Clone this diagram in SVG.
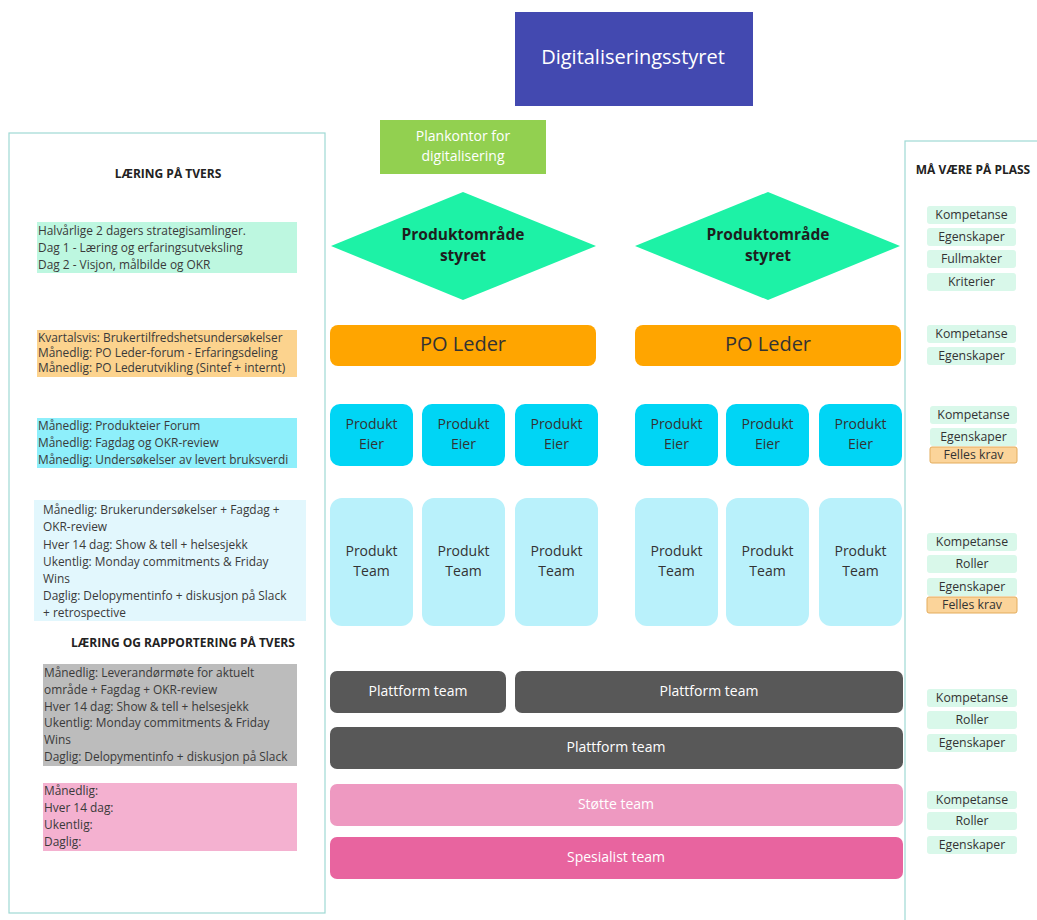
<svg xmlns="http://www.w3.org/2000/svg" width="1037" height="920" viewBox="0 0 1037 920">
  <style>
    text { font-family: "Open Sans", "Noto Sans", "Liberation Sans", sans-serif; fill: #333; }
    .panel { fill: #fff; stroke: #9fd9d4; stroke-width: 1.2; }
    .head { font-size: 12px; font-weight: bold; fill: #222; text-anchor: middle; }
    .note { font-size: 11.9px; fill: #3a3a3a; }
    .tag { fill: #d9f8ea; }
    .tagkrav { fill: #fbd49a; stroke: #e3ac5c; stroke-width: 1; }
    .tagtxt { font-size: 12.3px; fill: #333; text-anchor: middle; }
    .c { text-anchor: middle; }
    .diamond { fill: #1df2a6; }
    .dtxt { font-size: 15.5px; font-weight: bold; fill: #1e1e1e; text-anchor: middle; }
    .po { fill: #ffa500; }
    .eier { fill: #00d5f5; }
    .team { fill: #b9f1fb; }
    .box14 { font-size: 14px; fill: #333; text-anchor: middle; }
    .plat { fill: #585858; }
    .wtxt { font-size: 14px; fill: #fff; text-anchor: middle; }
  </style>

  <!-- side panels -->
  <g id="panel-left">
    <rect class="panel" x="9" y="133" width="316" height="780"/>
    <text class="head" x="168" y="178">LÆRING PÅ TVERS</text>
    <rect x="37" y="222" width="260" height="51" fill="#bdf7e0"/>
    <text class="note" x="38" y="235" font-size="10.6">Halvårlige 2 dagers strategisamlinger.</text>
    <text class="note" x="38" y="252" font-size="10.6">Dag 1 - Læring og erfaringsutveksling</text>
    <text class="note" x="38" y="269" font-size="10.6">Dag 2 - Visjon, målbilde og OKR</text>

    <rect x="37" y="330" width="260" height="47" fill="#fcd38e"/>
    <text class="note" x="38" y="342" font-size="10.2">Kvartalsvis: Brukertilfredshetsundersøkelser</text>
    <text class="note" x="38" y="357" font-size="10.2">Månedlig: PO Leder-forum - Erfaringsdeling</text>
    <text class="note" x="38" y="372" font-size="10.2">Månedlig: PO Lederutvikling (Sintef + internt)</text>

    <rect x="37" y="418" width="260" height="50" fill="#8eeffb"/>
    <text class="note" x="38" y="430">Månedlig: Produkteier Forum</text>
    <text class="note" x="38" y="447">Månedlig: Fagdag og OKR-review</text>
    <text class="note" x="38" y="464">Månedlig: Undersøkelser av levert bruksverdi</text>

    <rect x="34" y="500" width="272" height="121" fill="#e2f7fd"/>
    <text class="note" x="43" y="514">Månedlig: Brukerundersøkelser + Fagdag +</text>
    <text class="note" x="43" y="531">OKR-review</text>
    <text class="note" x="43" y="549">Hver 14 dag: Show &amp; tell + helsesjekk</text>
    <text class="note" x="43" y="566">Ukentlig: Monday commitments &amp; Friday</text>
    <text class="note" x="43" y="583">Wins</text>
    <text class="note" x="43" y="600">Daglig: Delopymentinfo + diskusjon på Slack</text>
    <text class="note" x="43" y="617">+ retrospective</text>

    <text class="head" x="183" y="647">LÆRING OG RAPPORTERING PÅ TVERS</text>

    <rect x="43" y="664" width="254" height="102" fill="#bcbcbc"/>
    <text class="note" x="44" y="677">Månedlig: Leverandørmøte for aktuelt</text>
    <text class="note" x="44" y="694">område + Fagdag + OKR-review</text>
    <text class="note" x="44" y="711">Hver 14 dag: Show &amp; tell + helsesjekk</text>
    <text class="note" x="44" y="727">Ukentlig: Monday commitments &amp; Friday</text>
    <text class="note" x="44" y="744">Wins</text>
    <text class="note" x="44" y="761">Daglig: Delopymentinfo + diskusjon på Slack</text>

    <rect x="43" y="783" width="254" height="68" fill="#f4b1d0"/>
    <text class="note" x="44" y="795">Månedlig:</text>
    <text class="note" x="44" y="812">Hver 14 dag:</text>
    <text class="note" x="44" y="829">Ukentlig:</text>
    <text class="note" x="44" y="846">Daglig:</text>
  </g>

  <g id="panel-right">
    <rect class="panel" x="905" y="141" width="140" height="790"/>
    <text class="head" x="973" y="174">MÅ VÆRE PÅ PLASS</text>

    <rect class="tag" x="927" y="206" width="89" height="18" rx="3"/>
    <text class="tagtxt" x="971.5" y="219">Kompetanse</text>
    <rect class="tag" x="927" y="228" width="89" height="18" rx="3"/>
    <text class="tagtxt" x="971.5" y="241">Egenskaper</text>
    <rect class="tag" x="927" y="250" width="89" height="18" rx="3"/>
    <text class="tagtxt" x="971.5" y="263">Fullmakter</text>
    <rect class="tag" x="927" y="273" width="89" height="18" rx="3"/>
    <text class="tagtxt" x="971.5" y="286">Kriterier</text>

    <rect class="tag" x="927" y="325" width="89" height="18" rx="3"/>
    <text class="tagtxt" x="971.5" y="338">Kompetanse</text>
    <rect class="tag" x="927" y="347" width="89" height="18" rx="3"/>
    <text class="tagtxt" x="971.5" y="360">Egenskaper</text>

    <rect class="tag" x="930" y="406" width="87" height="18" rx="3"/>
    <text class="tagtxt" x="973.5" y="419">Kompetanse</text>
    <rect class="tag" x="930" y="428" width="87" height="18" rx="3"/>
    <text class="tagtxt" x="973.5" y="441">Egenskaper</text>
    <rect class="tagkrav" x="930" y="447" width="87" height="16" rx="2"/>
    <text class="tagtxt" x="973.5" y="459" font-size="11">Felles krav</text>

    <rect class="tag" x="927" y="533" width="90" height="18" rx="3"/>
    <text class="tagtxt" x="972" y="546">Kompetanse</text>
    <rect class="tag" x="927" y="555" width="90" height="18" rx="3"/>
    <text class="tagtxt" x="972" y="568">Roller</text>
    <rect class="tag" x="927" y="578" width="90" height="18" rx="3"/>
    <text class="tagtxt" x="972" y="591">Egenskaper</text>
    <rect class="tagkrav" x="927" y="597" width="90" height="16" rx="2"/>
    <text class="tagtxt" x="972" y="609" font-size="11">Felles krav</text>

    <rect class="tag" x="927" y="689" width="90" height="18" rx="3"/>
    <text class="tagtxt" x="972" y="702">Kompetanse</text>
    <rect class="tag" x="927" y="711" width="90" height="18" rx="3"/>
    <text class="tagtxt" x="972" y="724">Roller</text>
    <rect class="tag" x="927" y="734" width="90" height="18" rx="3"/>
    <text class="tagtxt" x="972" y="747">Egenskaper</text>

    <rect class="tag" x="927" y="791" width="90" height="18" rx="3"/>
    <text class="tagtxt" x="972" y="804">Kompetanse</text>
    <rect class="tag" x="927" y="812" width="90" height="18" rx="3"/>
    <text class="tagtxt" x="972" y="825">Roller</text>
    <rect class="tag" x="927" y="836" width="90" height="18" rx="3"/>
    <text class="tagtxt" x="972" y="849">Egenskaper</text>
  </g>

  <!-- top level -->
  <g id="digitaliseringsstyret">
    <rect x="515" y="12" width="238" height="94" fill="#4349b0"/>
    <text class="c" x="633" y="64" font-size="20" style="fill:#fff">Digitaliseringsstyret</text>
  </g>
  <g id="plankontor">
    <rect x="380" y="120" width="166" height="54" fill="#92d050"/>
    <text class="c" x="463" y="141" font-size="14" style="fill:#fff">Plankontor for</text>
    <text class="c" x="463" y="161" font-size="14" style="fill:#fff">digitalisering</text>
  </g>

  <!-- product area boards -->
  <g id="styret-1">
    <polygon class="diamond" points="463,192 596,246 463,300 331,246"/>
    <text class="dtxt" x="463" y="240">Produktområde</text>
    <text class="dtxt" x="463" y="261">styret</text>
  </g>
  <g id="styret-2">
    <polygon class="diamond" points="768,192 900,246 768,300 635,246"/>
    <text class="dtxt" x="768" y="240">Produktområde</text>
    <text class="dtxt" x="768" y="261">styret</text>
  </g>

  <g id="po-leder-1">
    <rect class="po" x="330" y="325" width="266" height="41" rx="8"/>
    <text class="c" x="463" y="351" font-size="20">PO Leder</text>
  </g>
  <g id="po-leder-2">
    <rect class="po" x="635" y="325" width="266" height="41" rx="8"/>
    <text class="c" x="768" y="351" font-size="20">PO Leder</text>
  </g>

  <!-- product owners -->
  <g id="eier-1"><rect class="eier" x="330" y="404" width="83" height="62" rx="10"/>
    <text class="box14" x="371.5" y="429">Produkt</text><text class="box14" x="371.5" y="449">Eier</text></g>
  <g id="eier-2"><rect class="eier" x="422" y="404" width="83" height="62" rx="10"/>
    <text class="box14" x="463.5" y="429">Produkt</text><text class="box14" x="463.5" y="449">Eier</text></g>
  <g id="eier-3"><rect class="eier" x="515" y="404" width="83" height="62" rx="10"/>
    <text class="box14" x="556.5" y="429">Produkt</text><text class="box14" x="556.5" y="449">Eier</text></g>
  <g id="eier-4"><rect class="eier" x="635" y="404" width="83" height="62" rx="10"/>
    <text class="box14" x="676.5" y="429">Produkt</text><text class="box14" x="676.5" y="449">Eier</text></g>
  <g id="eier-5"><rect class="eier" x="726" y="404" width="83" height="62" rx="10"/>
    <text class="box14" x="767.5" y="429">Produkt</text><text class="box14" x="767.5" y="449">Eier</text></g>
  <g id="eier-6"><rect class="eier" x="819" y="404" width="83" height="62" rx="10"/>
    <text class="box14" x="860.5" y="429">Produkt</text><text class="box14" x="860.5" y="449">Eier</text></g>

  <!-- product teams -->
  <g id="team-1"><rect class="team" x="330" y="498" width="83" height="128" rx="12"/>
    <text class="box14" x="371.5" y="556">Produkt</text><text class="box14" x="371.5" y="576">Team</text></g>
  <g id="team-2"><rect class="team" x="422" y="498" width="83" height="128" rx="12"/>
    <text class="box14" x="463.5" y="556">Produkt</text><text class="box14" x="463.5" y="576">Team</text></g>
  <g id="team-3"><rect class="team" x="515" y="498" width="83" height="128" rx="12"/>
    <text class="box14" x="556.5" y="556">Produkt</text><text class="box14" x="556.5" y="576">Team</text></g>
  <g id="team-4"><rect class="team" x="635" y="498" width="83" height="128" rx="12"/>
    <text class="box14" x="676.5" y="556">Produkt</text><text class="box14" x="676.5" y="576">Team</text></g>
  <g id="team-5"><rect class="team" x="726" y="498" width="83" height="128" rx="12"/>
    <text class="box14" x="767.5" y="556">Produkt</text><text class="box14" x="767.5" y="576">Team</text></g>
  <g id="team-6"><rect class="team" x="819" y="498" width="83" height="128" rx="12"/>
    <text class="box14" x="860.5" y="556">Produkt</text><text class="box14" x="860.5" y="576">Team</text></g>

  <!-- platform and support teams -->
  <g id="plattform-1"><rect class="plat" x="330" y="671" width="176" height="42" rx="7"/>
    <text class="wtxt" x="418" y="696">Plattform team</text></g>
  <g id="plattform-2"><rect class="plat" x="515" y="671" width="388" height="42" rx="7"/>
    <text class="wtxt" x="709" y="696">Plattform team</text></g>
  <g id="plattform-3"><rect class="plat" x="330" y="727" width="573" height="42" rx="7"/>
    <text class="wtxt" x="616" y="752">Plattform team</text></g>
  <g id="stotte"><rect x="330" y="784" width="573" height="42" rx="7" fill="#ee99c1"/>
    <text class="wtxt" x="616" y="809">Støtte team</text></g>
  <g id="spesialist"><rect x="330" y="837" width="573" height="42" rx="7" fill="#e8649f"/>
    <text class="wtxt" x="616" y="862">Spesialist team</text></g>

  <g id="connectors"></g>
</svg>
